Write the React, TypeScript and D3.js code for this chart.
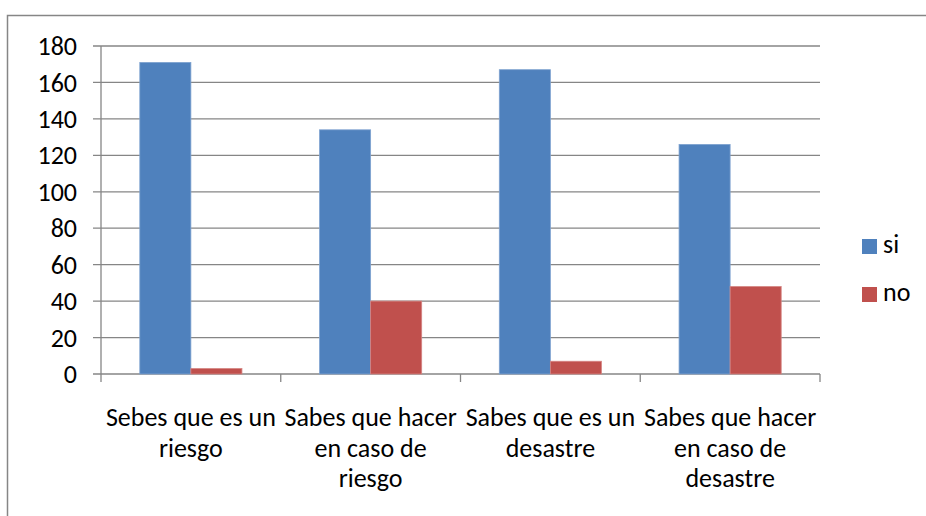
import * as d3 from "d3";

const categories = [
  ["Sebes que es un", "riesgo"],
  ["Sabes que hacer", "en caso de", "riesgo"],
  ["Sabes que es un", "desastre"],
  ["Sabes que hacer", "en caso de", "desastre"],
];
const seriesNames = ["si", "no"];
const siValues = [171, 134, 167, 126];
const noValues = [3, 40, 7, 48];
const yTicks = [0, 20, 40, 60, 80, 100, 120, 140, 160, 180];

const colors = ["#4F81BD", "#C0504D"];
const strokes = ["#7FA3D0", "#D58583"];
const grid = "#868686";
const font = "Carlito, 'Liberation Sans Narrow', Lato, sans-serif";

const width = 926;
const height = 516;
const plotLeft = 101;
const plotRight = 820;
const plotTop = 46;
const plotBottom = 374;

export default function App() {
  const keys = categories.map((c) => c.join(" "));
  const x0 = d3.scaleBand().domain(keys).range([plotLeft, plotRight]).padding(0);
  const x1 = d3
    .scaleBand()
    .domain(seriesNames)
    .range([0, x0.bandwidth()])
    .paddingInner(0)
    .paddingOuter(0.76);
  const y = d3.scaleLinear().domain([0, 180]).range([plotBottom, plotTop]);

  const values = [siValues, noValues];
  const bounds = keys.map((k) => x0(k)).concat([plotRight]);

  return (
    <svg
      width={width}
      height={height}
      style={{ position: "absolute", left: 0, top: 0, background: "#fff" }}
      fontFamily={font}
    >
      <rect x={7.5} y={15.5} width={940} height={540} fill="#fff" stroke={grid} strokeWidth={1.5} />

      {/* gridlines and y ticks */}
      {yTicks.map((t) => (
        <g key={t}>
          <line x1={plotLeft - 8} x2={plotRight} y1={y(t)} y2={y(t)} stroke={grid} strokeWidth={1.3} />
          <text x={77} y={y(t)} dy="0.35em" textAnchor="end" fontSize={26} fill="#000">
            {t}
          </text>
        </g>
      ))}
      <line x1={plotLeft} x2={plotLeft} y1={plotTop} y2={plotBottom} stroke={grid} strokeWidth={1.3} />
      {bounds.map((b, i) => (
        <line key={i} x1={b} x2={b} y1={plotBottom} y2={plotBottom + 8} stroke={grid} strokeWidth={1.3} />
      ))}

      {/* bars */}
      {seriesNames.map((s, si) => (
        <g key={s}>
          {keys.map((k, i) => (
            <rect
              key={k}
              x={(x0(k) ?? 0) + (x1(s) ?? 0)}
              y={y(values[si][i])}
              width={x1.bandwidth()}
              height={plotBottom - y(values[si][i])}
              fill={colors[si]}
              stroke={strokes[si]}
              strokeWidth={0.8}
            />
          ))}
        </g>
      ))}

      {/* category labels */}
      {categories.map((lines, i) => (
        <text
          key={i}
          x={(x0(keys[i]) ?? 0) + x0.bandwidth() / 2}
          textAnchor="middle"
          fontSize={26}
          fill="#000"
        >
          {lines.map((l, j) => (
            <tspan key={j} x={(x0(keys[i]) ?? 0) + x0.bandwidth() / 2} y={426 + j * 30.5}>
              {l}
            </tspan>
          ))}
        </text>
      ))}

      {/* legend */}
      {seriesNames.map((s, i) => (
        <g key={s} transform={`translate(862,${239 + i * 48})`}>
          <rect width={15} height={15} fill={colors[i]} />
          <text x={21} y={14} fontSize={26} fill="#000">
            {s}
          </text>
        </g>
      ))}
    </svg>
  );
}
